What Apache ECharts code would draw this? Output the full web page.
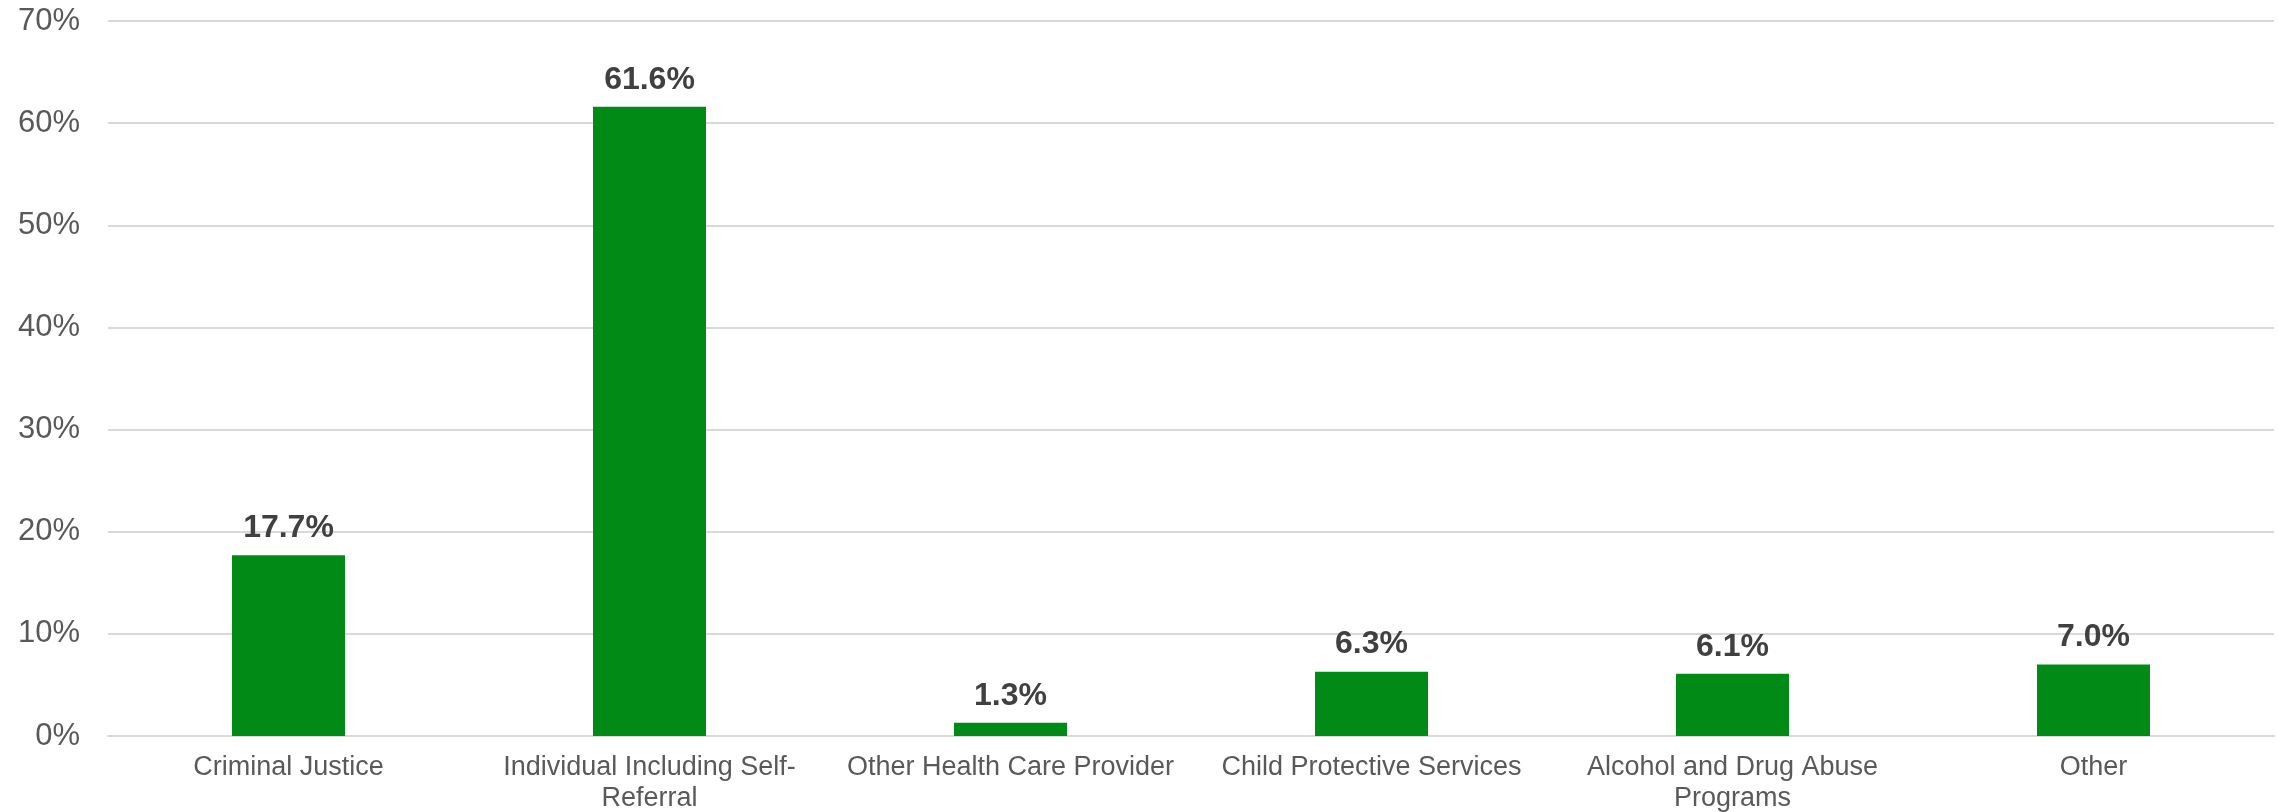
<!DOCTYPE html>
<html>
<head>
<meta charset="utf-8">
<title>Referral Source</title>
<script src="https://cdn.jsdelivr.net/npm/echarts@6/dist/echarts.min.js"></script>
<style>
  html, body { margin: 0; padding: 0; background: #ffffff; }
  #chart { width: 2278px; height: 812px; }
</style>
</head>
<body>
<div id="chart"></div>
<script>
// Referral source categories (line breaks where the axis label wraps)
const categories = [
  'Criminal Justice',
  'Individual Including Self-\nReferral',
  'Other Health Care Provider',
  'Child Protective Services',
  'Alcohol and Drug Abuse\nPrograms',
  'Other'
];

// Share of admissions by referral source, in percent
const shares = [17.7, 61.6, 1.3, 6.3, 6.1, 7.0];

// Value axis range and step, in percent
const axisMin = 0;
const axisMax = 70;
const axisStep = 10;

const FONT = '"Liberation Sans", Arial, Helvetica, sans-serif';

const chart = echarts.init(document.getElementById('chart'), null, { renderer: 'canvas' });

chart.setOption({
  animation: false,
  backgroundColor: '#ffffff',
  grid: {
    left: 108, right: 4, top: 21, bottom: 76,
    containLabel: false,
    outerBoundsMode: 'none'
  },
  xAxis: {
    type: 'category',
    data: categories,
    axisTick: { show: false },
    axisLine: { show: true, lineStyle: { color: '#d9d9d9', width: 2 } },
    axisLabel: {
      interval: 0,
      color: '#595959',
      fontFamily: FONT,
      fontSize: 27,
      lineHeight: 31,
      margin: 16
    }
  },
  yAxis: {
    type: 'value',
    min: axisMin,
    max: axisMax,
    interval: axisStep,
    axisLine: { show: false },
    axisTick: { show: false },
    splitLine: { show: true, lineStyle: { color: '#d9d9d9', width: 2 } },
    axisLabel: {
      color: '#595959',
      fontFamily: FONT,
      fontSize: 31,
      margin: 28,
      formatter: v => v + '%'
    }
  },
  series: [{
    type: 'bar',
    data: shares,
    barWidth: 113,
    itemStyle: { color: '#028a17' },
    label: {
      show: true,
      position: 'top',
      distance: 11,
      color: '#404040',
      fontFamily: FONT,
      fontWeight: 'bold',
      fontSize: 32,
      formatter: p => p.value.toFixed(1) + '%'
    }
  }]
});
</script>
</body>
</html>
